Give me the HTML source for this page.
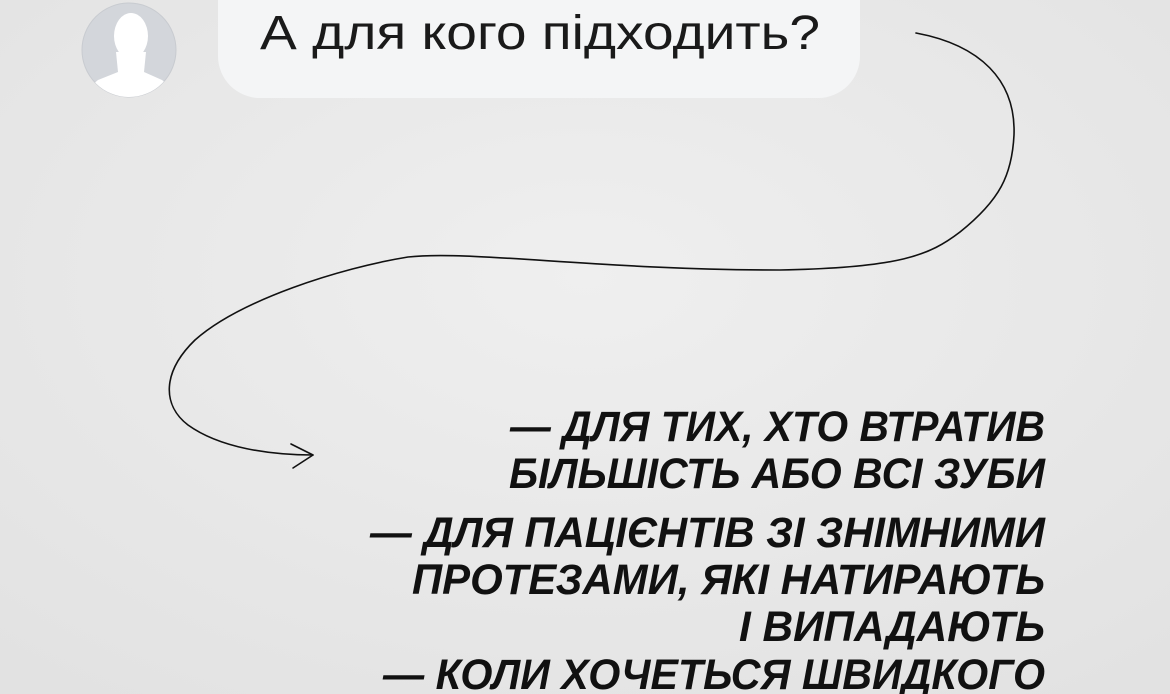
<!DOCTYPE html>
<html><head><meta charset="utf-8"><style>
html,body{margin:0;padding:0;}
body{width:1170px;height:694px;overflow:hidden;background:#e9e9e9;position:relative;font-family:"Liberation Sans",sans-serif;}
</style></head><body>
<svg width="1170" height="694" viewBox="0 0 1170 694" xmlns="http://www.w3.org/2000/svg" style="position:absolute;left:0;top:0">
<defs>
<radialGradient id="bg" cx="50%" cy="40%" r="75%">
<stop offset="0" stop-color="#efefef"/><stop offset="1" stop-color="#e2e2e2"/>
</radialGradient>
<clipPath id="av"><circle cx="129" cy="50" r="47"/></clipPath>
</defs>
<rect width="1170" height="694" fill="url(#bg)"/>
<rect x="218" y="-60" width="642" height="158" rx="42" fill="#f4f5f6"/>
<text x="260" y="49" font-family="Liberation Sans" font-size="48" fill="#1a1a1a" textLength="560" lengthAdjust="spacingAndGlyphs">А для кого підходить?</text>
<circle cx="129" cy="50" r="47" fill="#d3d6db" stroke="#c8cbd0" stroke-width="1"/>
<g clip-path="url(#av)" fill="#ffffff">
<ellipse cx="131" cy="36" rx="17" ry="23"/>
<path d="M116 52 L118 72 L98 80 Q90 86 88 100 L174 100 Q170 86 162 80 L144 72 L146 52 Z"/>
</g>
<path d="M916 33 C980 45 1016 80 1014 135 C1012 175 1000 200 960 232 C930 255 900 268 780 270 C600 270 470 250 408 257 C340 268 240 300 195 340 C162 372 162 405 188 425 C220 448 270 455 313 455" fill="none" stroke="#111" stroke-width="1.6" stroke-linecap="round"/>
<path d="M291 444 L313 455 L293 468" fill="none" stroke="#111" stroke-width="1.6" stroke-linecap="round" stroke-linejoin="round"/>
<g font-family="Liberation Sans" font-weight="bold" font-style="italic" font-size="43" fill="#111">
<text x="510" y="441" textLength="535" lengthAdjust="spacingAndGlyphs">— ДЛЯ ТИХ, ХТО ВТРАТИВ</text>
<text x="509" y="488" textLength="536" lengthAdjust="spacingAndGlyphs">БІЛЬШІСТЬ АБО ВСІ ЗУБИ</text>
<text x="370" y="547" textLength="675" lengthAdjust="spacingAndGlyphs">— ДЛЯ ПАЦІЄНТІВ ЗІ ЗНІМНИМИ</text>
<text x="412" y="594" textLength="633" lengthAdjust="spacingAndGlyphs">ПРОТЕЗАМИ, ЯКІ НАТИРАЮТЬ</text>
<text x="739" y="641" textLength="306" lengthAdjust="spacingAndGlyphs">І ВИПАДАЮТЬ</text>
<text x="383" y="689" textLength="662" lengthAdjust="spacingAndGlyphs">— КОЛИ ХОЧЕТЬСЯ ШВИДКОГО</text>
</g>
</svg>
</body></html>
